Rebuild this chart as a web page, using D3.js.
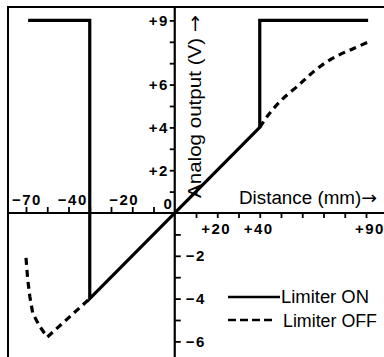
<!DOCTYPE html>
<html>
<head>
<meta charset="utf-8">
<script src="https://cdn.jsdelivr.net/npm/d3@7"></script>
<style>
  body { margin: 0; background: #fff; }
  svg { display: block; }
  .tick text { display: none; }
  .lbl { font-family: "Liberation Sans", Arial, sans-serif; font-weight: bold; font-size: 15px; fill: #000; }
  .title { font-family: "Liberation Sans", Arial, sans-serif; font-size: 18px; fill: #000; }
  .arr { font-family: "DejaVu Sans", sans-serif; }
</style>
</head>
<body>
<script>
// data (distance mm, output V)
var onX  = [-69, -40, -40, 40, 40, 91];
var onY  = [9, 9, -4, 4, 9, 9];
var offLeftX  = [-70, -69.2, -68.2, -66.8, -63.5, -60, -40];
var offLeftY  = [-2.1, -3.1, -3.9, -4.7, -5.3, -5.8, -4];
var offRightX = [40, 44.2, 50.4, 58.4, 63.5, 70.6, 77.2, 84.7, 91.3];
var offRightY = [4, 4.6, 5.3, 5.98, 6.45, 7.0, 7.38, 7.71, 8.0];

var xTicksNeg = [-70, -60, -50, -40, -30, -20, -10];
var xTicksPos = [10, 20, 30, 40, 50, 60, 70, 80, 90];
var xLabelsNeg = [-70, -40, -20];
var xLabelsPos = [20, 40, 90];
var yTicksPos = [1, 2, 3, 4, 5, 6, 7, 8, 9];
var yTicksNeg = [-1, -2, -3, -4, -5, -6];
var yLabelsPos = [9, 6, 4, 2];
var yLabelsNeg = [-2, -4, -6];

var W = 384, H = 357;
var svg = d3.select("body").append("svg").attr("width", W).attr("height", H);

var x = d3.scaleLinear().domain([-70, 90]).range([26, 366]);
var y = d3.scaleLinear().domain([-6, 9]).range([341.4, 20.4]);
var x0 = x(0), y0 = y(0);

// frame (left and top only)
svg.append("path")
  .attr("d", "M8," + H + "V7H" + W)
  .attr("fill", "none").attr("stroke", "#000").attr("stroke-width", 2);

// axes lines
svg.append("line").attr("x1", 8).attr("x2", W).attr("y1", y0).attr("y2", y0)
  .attr("stroke", "#000").attr("stroke-width", 2.2);
svg.append("line").attr("x1", x0).attr("x2", x0).attr("y1", 7).attr("y2", H)
  .attr("stroke", "#000").attr("stroke-width", 2.2);

function styleAxis(g) {
  g.select(".domain").remove();
  g.selectAll(".tick line").attr("stroke", "#000").attr("stroke-width", 1.8);
}

svg.append("g").attr("transform", "translate(0," + y0 + ")")
  .call(d3.axisTop(x).tickValues(xTicksNeg).tickSize(6)).call(styleAxis);
svg.append("g").attr("transform", "translate(0," + y0 + ")")
  .call(d3.axisBottom(x).tickValues(xTicksPos).tickSize(5)).call(styleAxis);
svg.append("g").attr("transform", "translate(" + x0 + ",0)")
  .call(d3.axisLeft(y).tickValues(yTicksPos).tickSize(5)).call(styleAxis);
svg.append("g").attr("transform", "translate(" + x0 + ",0)")
  .call(d3.axisRight(y).tickValues(yTicksNeg).tickSize(6)).call(styleAxis);

function fmt(v) { return (v > 0 ? "+" : "\u2212") + Math.abs(v); }

// x tick labels
svg.selectAll(".xn").data(xLabelsNeg).enter().append("text")
  .attr("class", "lbl")
  .attr("x", function(d) { return d == -40 ? x(d) - 2 : (d == -20 ? x(d) - 8 : x(d) + 1); })
  .attr("y", y0 - 8)
  .attr("text-anchor", function(d) { return d == -40 ? "end" : "middle"; })
  .attr("letter-spacing", 1.5)
  .text(fmt);
svg.selectAll(".xp").data(xLabelsPos).enter().append("text")
  .attr("class", "lbl")
  .attr("x", function(d) { return d == 90 ? x(d) + 4 : x(d) - 1; })
  .attr("y", y0 + 21)
  .attr("text-anchor", "middle")
  .attr("letter-spacing", 1.5)
  .text(fmt);
svg.append("text").attr("class", "lbl")
  .attr("x", x0 - 3).attr("y", y0 - 4).attr("text-anchor", "end").text("0");

// y tick labels
svg.selectAll(".yp").data(yLabelsPos).enter().append("text")
  .attr("class", "lbl")
  .attr("x", x0 - 6).attr("y", function(d) { return y(d) + 5.5; })
  .attr("text-anchor", "end")
  .attr("letter-spacing", 1.5)
  .text(fmt);
svg.selectAll(".yn").data(yLabelsNeg).enter().append("text")
  .attr("class", "lbl")
  .attr("x", x0 + 11).attr("y", function(d) { return y(d) + 5.5; })
  .attr("letter-spacing", 1.5)
  .text(fmt);

// axis titles
var ty = svg.append("text").attr("class", "title")
  .attr("transform", "translate(" + (x0 + 26) + ",198) rotate(-90)")
  .attr("textLength", 183).attr("lengthAdjust", "spacingAndGlyphs");
ty.append("tspan").text("Analog output (V) ");
ty.append("tspan").attr("class", "arr").text("\u2192");

var tx = svg.append("text").attr("class", "title")
  .attr("x", 239).attr("y", y0 - 9)
  .attr("textLength", 138).attr("lengthAdjust", "spacingAndGlyphs");
tx.append("tspan").text("Distance (mm)");
tx.append("tspan").attr("class", "arr").text("\u2192");

// series
var lineOn = d3.line().x(function(d) { return x(d[0]); }).y(function(d) { return y(d[1]); });
svg.append("path")
  .datum(d3.zip(onX, onY))
  .attr("d", lineOn)
  .attr("fill", "none").attr("stroke", "#000").attr("stroke-width", 3.2)
  .attr("stroke-linejoin", "miter");

var lineOffL = d3.line().x(function(d) { return x(d[0]); }).y(function(d) { return y(d[1]); });
var lineOffR = d3.line().curve(d3.curveCatmullRom)
  .x(function(d) { return x(d[0]); }).y(function(d) { return y(d[1]); });
svg.append("path")
  .datum(d3.zip(offLeftX, offLeftY))
  .attr("d", lineOffL)
  .attr("fill", "none").attr("stroke", "#000").attr("stroke-width", 3.2)
  .attr("stroke-dasharray", "7,5");
svg.append("path")
  .datum(d3.zip(offRightX, offRightY))
  .attr("d", lineOffR)
  .attr("fill", "none").attr("stroke", "#000").attr("stroke-width", 3.2)
  .attr("stroke-dasharray", "7,5");

// legend
var leg = svg.append("g");
leg.append("line").attr("x1", 228).attr("x2", 280).attr("y1", 297).attr("y2", 297)
  .attr("stroke", "#000").attr("stroke-width", 2.4);
leg.append("text").attr("class", "title").attr("x", 281).attr("y", 303)
  .attr("textLength", 88).attr("lengthAdjust", "spacingAndGlyphs")
  .text("Limiter ON");
leg.append("line").attr("x1", 228).attr("x2", 276).attr("y1", 320).attr("y2", 320)
  .attr("stroke", "#000").attr("stroke-width", 2.4).attr("stroke-dasharray", "8,4");
leg.append("text").attr("class", "title").attr("x", 283).attr("y", 327)
  .attr("textLength", 94).attr("lengthAdjust", "spacingAndGlyphs")
  .text("Limiter OFF");
</script>
</body>
</html>
